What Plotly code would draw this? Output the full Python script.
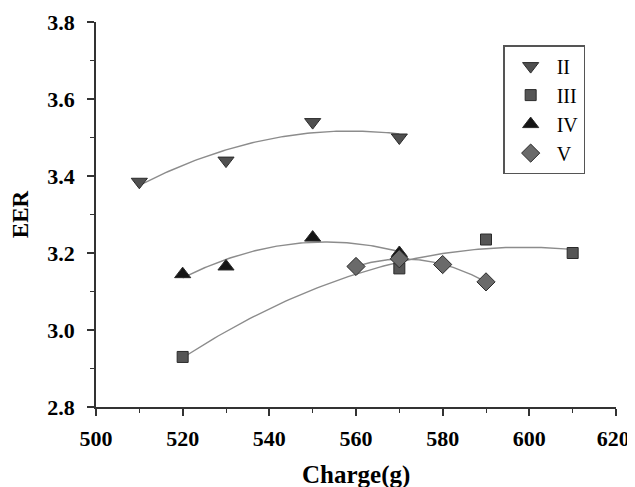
import numpy as np
import plotly.graph_objects as go

# Data
ii_x = [510, 530, 550, 570]
ii_y = [3.385, 3.44, 3.54, 3.50]
iii_x = [520, 570, 590, 610]
iii_y = [2.93, 3.16, 3.235, 3.20]
iv_x = [520, 530, 550, 570]
iv_y = [3.145, 3.165, 3.24, 3.20]
v_x = [560, 570, 580, 590]
v_y = [3.165, 3.185, 3.17, 3.125]

x_ticks = [500, 520, 540, 560, 580, 600, 620]
y_ticks = [2.8, 3.0, 3.2, 3.4, 3.6, 3.8]

series = [
    ("II", ii_x, ii_y, "triangle-down", "#505050", 14),
    ("III", iii_x, iii_y, "square", "#555555", 11),
    ("IV", iv_x, iv_y, "triangle-up", "#151515", 14),
    ("V", v_x, v_y, "diamond", "#6a6a6a", 14),
]

fig = go.Figure()

# quadratic trend lines fitted to each series
for name, xs, ys, sym, col, sz in series:
    c = np.polyfit(xs, ys, 2)
    fx = np.linspace(min(xs), max(xs), 100)
    fig.add_trace(go.Scatter(x=fx, y=np.polyval(c, fx), mode="lines",
                             line=dict(color="#8c8c8c", width=1.4),
                             showlegend=False, hoverinfo="skip"))

for name, xs, ys, sym, col, sz in series:
    fig.add_trace(go.Scatter(x=xs, y=ys, mode="markers", name=name,
                             marker=dict(symbol=sym, size=sz, color=col,
                                         line=dict(color="#2a2a2a", width=1))))

font_serif = "Liberation Serif"
tick_common = dict(showline=True, linecolor="#333", linewidth=1.5,
                   ticks="outside", ticklen=7, tickwidth=1.5, tickcolor="#333",
                   showgrid=False, zeroline=False, automargin=False,
                   ticklabeloverflow="allow",
                   tickfont=dict(family=font_serif, size=22, color="black"))

x_text = [f"<b>{v}</b>" for v in x_ticks]
x_text[-1] = x_text[-1] + "&nbsp;"

fig.update_layout(
    width=627, height=479,
    margin=dict(l=88, r=19, t=14, b=80),
    plot_bgcolor="white", paper_bgcolor="white",
    font=dict(family=font_serif, color="black"),
    legend=dict(x=0.783, y=0.94, xanchor="left", yanchor="top",
                bordercolor="#555555", borderwidth=1.5,
                font=dict(family=font_serif, size=20, color="black"),
                tracegroupgap=0, itemwidth=42, bgcolor="white"),
    xaxis=dict(range=[500, 620], tickmode="array", tickvals=x_ticks,
               ticktext=x_text,
               minor=dict(tickmode="array", tickvals=list(np.arange(510, 620, 20)),
                          ticks="outside", ticklen=4, tickwidth=1.2, tickcolor="#333"),
               ticklabelstandoff=4,
               **tick_common),
    yaxis=dict(range=[2.8, 3.8], tickmode="array", tickvals=y_ticks,
               ticktext=[f"<b>{v:.1f}</b>" for v in y_ticks],
               minor=dict(tickmode="array", tickvals=list(np.arange(2.9, 3.8, 0.2)),
                          ticks="outside", ticklen=4, tickwidth=1.2, tickcolor="#333"),
               ticklabelstandoff=8,
               title=dict(text="<b>EER</b>", font=dict(family=font_serif, size=23, color="black"), standoff=12),
               **tick_common),
    annotations=[dict(text="<b>Charge(g)</b>", xref="paper", yref="paper",
                      x=0.5, y=-0.177, xanchor="center", yanchor="middle",
                      showarrow=False,
                      font=dict(family=font_serif, size=25, color="black"))],
)

fig.write_html("out.html")
